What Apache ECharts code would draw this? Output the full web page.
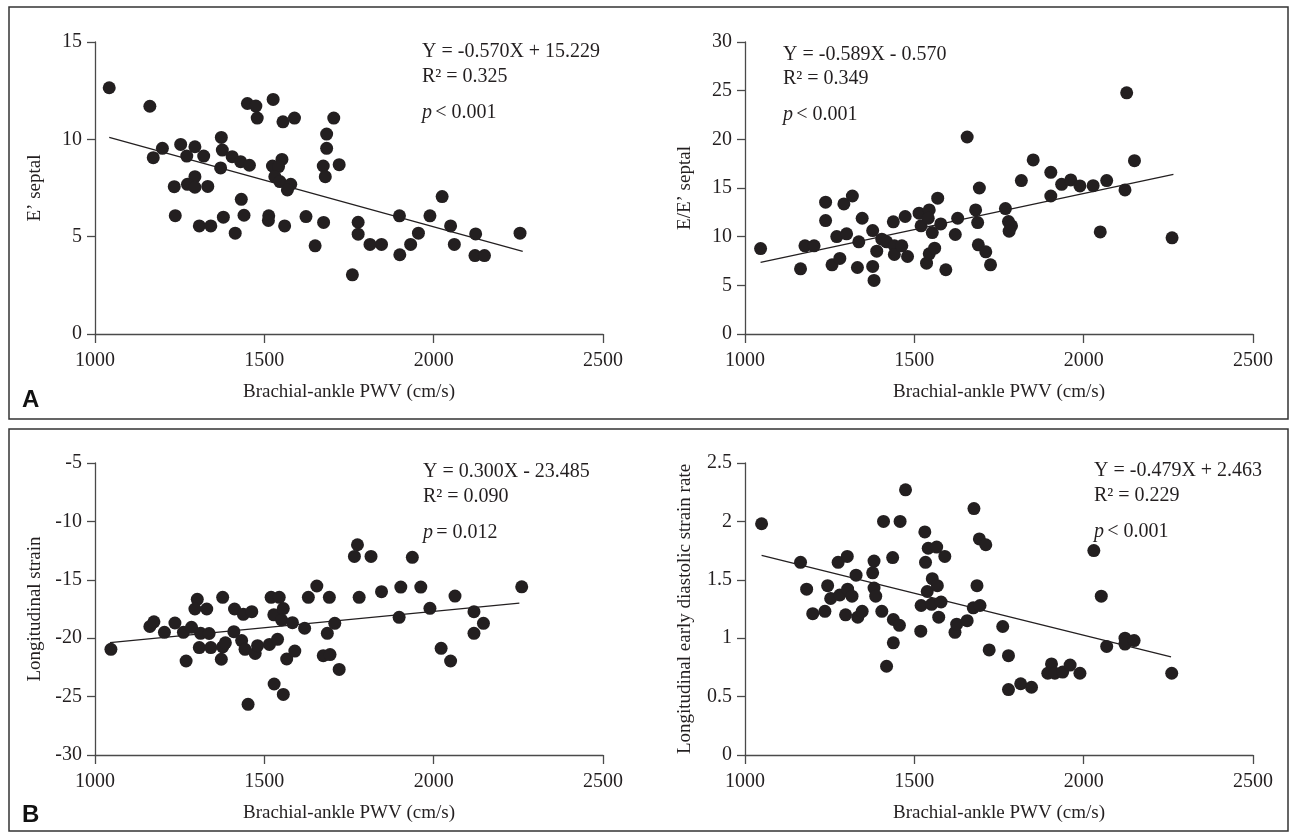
<!DOCTYPE html>
<html>
<head>
<meta charset="utf-8">
<script src="https://cdn.jsdelivr.net/npm/echarts@6/dist/echarts.min.js"></script>
<style>
html,body{margin:0;padding:0;background:#fff;}
#chart{width:1295px;height:835px;}
</style>
</head>
<body>
<div id="chart"></div>
<script>
// ---- Data ----
const xAxisTicks = [1000, 1500, 2000, 2500];
const xAxisTitle = 'Brachial-ankle PWV (cm/s)';

// Panel A left: E' septal
const ePrimeSeptal = [[1042,12.65],[1162,11.7],[1199,9.54],[1172,9.06],[1253,9.74],[1295,9.62],[1271,9.14],[1321,9.14],[1373,10.1],[1376,9.45],[1405,9.11],[1430,8.85],[1456,8.67],[1371,8.53],[1295,8.08],[1273,7.69],[1295,7.54],[1234,7.57],[1333,7.58],[1432,6.92],[1237,6.08],[1308,5.55],[1342,5.55],[1379,6.0],[1414,5.18],[1440,6.1],[1450,11.84],[1475,11.71],[1479,11.09],[1526,12.05],[1555,10.9],[1589,11.09],[1524,8.63],[1552,8.97],[1542,8.6],[1531,8.08],[1546,7.83],[1578,7.69],[1568,7.4],[1513,6.07],[1512,5.83],[1560,5.55],[1623,6.03],[1650,4.53],[1675,5.73],[1684,10.27],[1684,9.54],[1705,11.09],[1674,8.63],[1680,8.08],[1721,8.7],[1760,3.04],[1777,5.74],[1777,5.13],[1812,4.6],[1846,4.6],[1899,6.07],[1900,4.07],[1932,4.6],[1955,5.18],[1989,6.07],[2025,7.06],[2050,5.55],[2061,4.6],[2124,5.14],[2122,4.03],[2150,4.03],[2255,5.18]];
const ePrimeFit = [[1042,10.1],[2263,4.24]];

// Panel A right: E/E' septal
const eOverEPrime = [[1046,8.78],[1164,6.7],[1177,9.06],[1204,9.06],[1238,13.54],[1238,11.65],[1257,7.11],[1280,7.76],[1271,10.01],[1300,10.29],[1292,13.36],[1317,14.18],[1336,9.47],[1332,6.83],[1346,11.89],[1377,10.63],[1377,6.94],[1381,5.5],[1389,8.51],[1404,9.74],[1418,9.47],[1438,11.52],[1441,9.06],[1441,8.17],[1463,9.06],[1480,7.96],[1473,12.07],[1514,12.41],[1520,11.11],[1544,12.75],[1541,11.89],[1553,10.42],[1569,13.95],[1578,11.31],[1536,7.28],[1544,8.24],[1560,8.82],[1593,6.6],[1621,10.22],[1628,11.89],[1656,20.24],[1681,12.75],[1692,15.0],[1687,11.45],[1689,9.16],[1711,8.44],[1725,7.11],[1769,12.89],[1778,11.55],[1787,11.11],[1780,10.56],[1816,15.76],[1851,17.88],[1903,16.61],[1903,14.18],[1935,15.38],[1962,15.83],[1989,15.21],[2028,15.24],[2068,15.76],[2049,10.49],[2122,14.8],[2127,24.78],[2150,17.81],[2261,9.88]];
const eOverEPrimeFit = [[1046,7.35],[2265,16.4]];

// Panel B left: Longitudinal strain
const longStrain = [[1047,-20.95],[1162,-19.0],[1174,-18.6],[1205,-19.5],[1236,-18.7],[1269,-21.95],[1261,-19.5],[1285,-19.07],[1302,-16.67],[1295,-17.5],[1330,-17.5],[1312,-19.58],[1337,-19.6],[1308,-20.8],[1342,-20.8],[1373,-21.8],[1377,-20.75],[1385,-20.4],[1377,-16.5],[1410,-19.44],[1412,-17.5],[1438,-17.96],[1463,-17.73],[1433,-20.2],[1443,-20.95],[1473,-21.3],[1480,-20.64],[1452,-25.66],[1515,-20.53],[1539,-20.1],[1520,-16.5],[1544,-16.5],[1528,-18.0],[1556,-17.46],[1551,-18.44],[1583,-18.67],[1529,-23.92],[1556,-24.81],[1566,-21.78],[1590,-21.1],[1619,-19.15],[1630,-16.5],[1655,-15.53],[1692,-16.5],[1686,-19.58],[1674,-21.5],[1694,-21.4],[1708,-18.73],[1721,-22.67],[1775,-12.0],[1766,-13.0],[1815,-13.0],[1780,-16.5],[1846,-16.02],[1903,-15.62],[1898,-18.21],[1937,-13.08],[1962,-15.62],[1989,-17.44],[2022,-20.87],[2050,-21.95],[2063,-16.39],[2119,-17.73],[2147,-18.73],[2119,-19.58],[2260,-15.6]];
const longStrainFit = [[1044,-20.38],[2253,-17.0]];

// Panel B right: Longitudinal early diastolic strain rate
const strainRate = [[1049,1.98],[1164,1.65],[1182,1.42],[1200,1.21],[1236,1.23],[1244,1.45],[1253,1.34],[1275,1.65],[1280,1.37],[1302,1.70],[1303,1.42],[1316,1.36],[1297,1.20],[1328,1.54],[1333,1.18],[1346,1.23],[1381,1.66],[1377,1.56],[1381,1.43],[1386,1.36],[1404,1.23],[1409,2.0],[1418,0.76],[1436,1.69],[1438,1.16],[1438,0.96],[1456,1.11],[1458,2.0],[1474,2.27],[1519,1.06],[1520,1.28],[1531,1.91],[1533,1.65],[1538,1.40],[1541,1.77],[1566,1.78],[1553,1.51],[1568,1.45],[1551,1.29],[1579,1.31],[1572,1.18],[1590,1.70],[1620,1.05],[1625,1.12],[1656,1.15],[1676,2.11],[1674,1.26],[1694,1.28],[1685,1.45],[1692,1.85],[1711,1.80],[1721,0.90],[1761,1.10],[1778,0.85],[1778,0.56],[1814,0.61],[1846,0.58],[1905,0.78],[1894,0.70],[1915,0.70],[1938,0.71],[1960,0.77],[1989,0.70],[2030,1.75],[2052,1.36],[2068,0.93],[2122,1.0],[2122,0.95],[2149,0.98],[2260,0.70]];
const strainRateFit = [[1049,1.71],[2258,0.84]];

const yAxisTitles = ["E’ septal", "E/E’ septal", 'Longitudinal strain', 'Longitudinal early diastolic strain rate'];
const yRanges = [[0,15,5],[0,30,5],[-30,-5,5],[0,2.5,0.5]];
const equations = ['Y = -0.570X + 15.229', 'Y = -0.589X - 0.570', 'Y = 0.300X - 23.485', 'Y = -0.479X + 2.463'];
const rSquared = ['R² = 0.325', 'R² = 0.349', 'R² = 0.090', 'R² = 0.229'];
const pValues = ['< 0.001', '< 0.001', '= 0.012', '< 0.001'];
const panelLetters = ['A', 'B'];

// ---- Chart ----
const SERIF = '"Liberation Serif", "Times New Roman", serif';
const INK = '#231f20';
const AXIS = '#4a4a4a';
const grids = [
  {left:95, top:42, width:508, height:292},
  {left:745, top:42, width:508, height:292},
  {left:95, top:463, width:508, height:292},
  {left:745, top:463, width:508, height:292}
];
const scatterSets = [ePrimeSeptal, eOverEPrime, longStrain, strainRate];
const fitSets = [ePrimeFit, eOverEPrimeFit, longStrainFit, strainRateFit];
const plain = v => String(v);

const xAxes = grids.map((g,i)=>({
  type:'value', gridIndex:i, min:xAxisTicks[0], max:xAxisTicks[xAxisTicks.length-1],
  interval:xAxisTicks[1]-xAxisTicks[0],
  name:xAxisTitle, nameLocation:'middle', nameGap:49,
  nameTextStyle:{fontFamily:SERIF, fontSize:19, color:INK},
  axisLine:{show:true, onZero:false, lineStyle:{color:AXIS, width:1.3}},
  axisTick:{show:true, length:9, lineStyle:{color:AXIS, width:1.3}},
  axisLabel:{margin:17, fontFamily:SERIF, fontSize:20, color:INK, formatter:plain},
  splitLine:{show:false}
}));
const yAxes = grids.map((g,i)=>({
  type:'value', gridIndex:i, min:yRanges[i][0], max:yRanges[i][1], interval:yRanges[i][2],
  name:yAxisTitles[i], nameLocation:'middle', nameGap:50,
  nameTextStyle:{fontFamily:SERIF, fontSize:19, color:INK},
  axisLine:{show:true, onZero:false, lineStyle:{color:AXIS, width:1.3}},
  axisTick:{show:true, length:8, lineStyle:{color:AXIS, width:1.3}},
  axisLabel:{margin:13, fontFamily:SERIF, fontSize:20, color:INK, formatter:plain},
  splitLine:{show:false}
}));

const series = [];
scatterSets.forEach((d,i)=>{
  series.push({type:'scatter', xAxisIndex:i, yAxisIndex:i, data:d, symbolSize:13,
    itemStyle:{color:INK, opacity:1}, silent:true, z:3});
  series.push({type:'line', xAxisIndex:i, yAxisIndex:i, data:fitSets[i], symbol:'none',
    lineStyle:{color:INK, width:1.3}, silent:true, z:2});
});

const annoPos = [[422,52,77,113],[783,55,79,115],[423,472,497,533],[1094,471,496,532]];
const graphics = [
  {type:'rect', shape:{x:9, y:7, width:1279, height:412}, style:{fill:'none', stroke:'#333', lineWidth:1.5}, z:0},
  {type:'rect', shape:{x:9, y:429, width:1279, height:402}, style:{fill:'none', stroke:'#333', lineWidth:1.5}, z:0},
  {type:'text', x:22, y:400, style:{text:panelLetters[0], font:'bold 24px "Liberation Sans", Arial, sans-serif', fill:'#111', textVerticalAlign:'middle'}},
  {type:'text', x:22, y:815, style:{text:panelLetters[1], font:'bold 24px "Liberation Sans", Arial, sans-serif', fill:'#111', textVerticalAlign:'middle'}}
];
annoPos.forEach((p,i)=>{
  graphics.push({type:'text', x:p[0], y:p[1], style:{text:equations[i], font:'20px '+SERIF, fill:INK, textVerticalAlign:'middle'}});
  graphics.push({type:'text', x:p[0], y:p[2], style:{text:rSquared[i], font:'20px '+SERIF, fill:INK, textVerticalAlign:'middle'}});
  graphics.push({type:'text', x:p[0], y:p[3], style:{
    text:'{i|p} {n|'+pValues[i]+'}', textVerticalAlign:'middle',
    rich:{i:{fontFamily:SERIF, fontSize:20, fontStyle:'italic', fill:INK, color:INK}, n:{fontFamily:SERIF, fontSize:20, fill:INK, color:INK}}
  }});
});

const chart = echarts.init(document.getElementById('chart'), null, {renderer:'canvas'});
chart.setOption({
  animation:false,
  backgroundColor:'#fff',
  grid:grids,
  xAxis:xAxes,
  yAxis:yAxes,
  series:series,
  graphic:graphics
});
</script>
</body>
</html>
